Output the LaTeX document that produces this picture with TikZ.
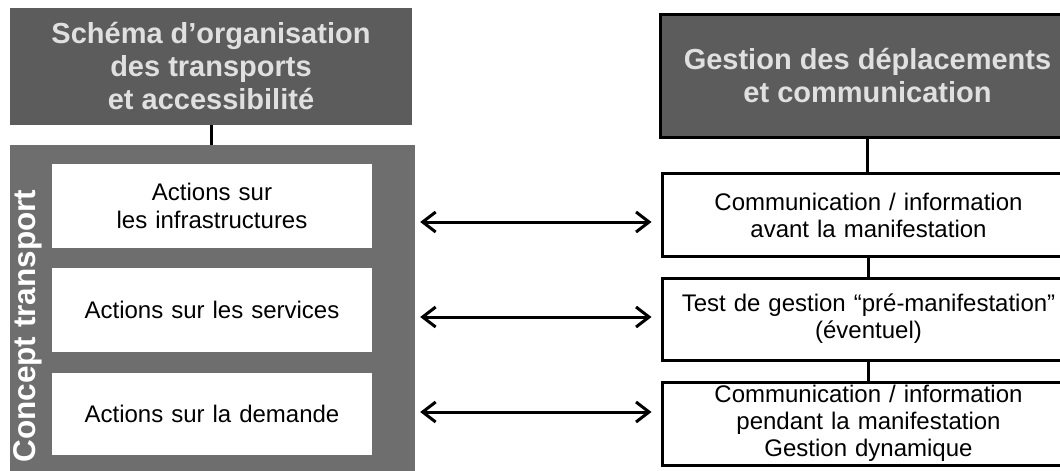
\documentclass[tikz,border=0pt]{standalone}
\usepackage{fontspec}
\setmainfont{Liberation Sans}
\usetikzlibrary{arrows.meta}

\tikzset{
  headbox/.style={fill=black!64,text=black!12,inner sep=0pt,align=center,
    font=\fontsize{29}{33}\selectfont\bfseries},
  conceptbox/.style={fill=black!57,inner sep=0pt},
  actbox/.style={fill=white,inner sep=0pt,align=center,text width=320pt,
    minimum width=320pt,minimum height=84pt,font=\fontsize{24}{28}\selectfont},
  stagebox/.style={draw=black,line width=3pt,fill=white,inner sep=0pt,align=center,
    text width=405pt,minimum width=413pt,minimum height=83pt,
    font=\fontsize{24}{27}\selectfont},
  wire/.style={line width=3pt},
  link/.style={line width=3pt,{Straight Barb[length=13pt,width=20pt]}-{Straight Barb[length=13pt,width=20pt]}}
}

\begin{document}
\begin{tikzpicture}[x=1pt,y=-1pt]
        % page frame
        \useasboundingbox (0,0) rectangle (1060,471);
        \clip (0,0) rectangle (1060,471);
        \fill[white] (0,0) rectangle (1060,471);

        % left column
        \node[headbox,minimum width=402pt,minimum height=117pt] (org) at (211,66.5)
          {Schéma d'organisation\\des transports\\et accessibilité};
        \node[conceptbox,minimum width=405pt,minimum height=345pt] (concept) at (212.5,317.5) {};
        \node[rotate=90,text=white,font=\fontsize{31.5}{31.5}\selectfont\bfseries] (ctlabel) at (28,326) {Concept transport};
        \node[actbox] (act1) at (212,206) {Actions sur\\les infrastructures};
        \node[actbox] (act2) at (212,310) {Actions sur les services};
        \node[actbox,minimum height=82pt] (act3) at (212,414) {Actions sur la demande};

        % right column
        \node[headbox,draw=black,line width=3pt,minimum width=415pt,minimum height=123pt] (gest) at (867.5,75.5)
          {Gestion des déplacements\\et communication};
        \node[stagebox] (rb1) at (868.5,215) {Communication / information\\avant la manifestation};
        \node[stagebox,minimum height=82pt] (rb2) at (868.5,319) {Test de gestion “pré-manifestation”\\(éventuel)};
        \node[stagebox] (rb3) at (868.5,423.5) {Communication / information\\pendant la manifestation\\Gestion dynamique};

        % vertical links
        \draw[wire] (org.south) -- (org.south |- concept.north);
        \draw[wire] (gest.south) -- (gest.south |- rb1.north);
        \draw[wire] (rb1.south) -- (rb1.south |- rb2.north);
        \draw[wire] (rb2.south) -- (rb2.south |- rb3.north);

        % double arrows
        \foreach \b/\s in {rb1/-7,rb2/2,rb3/11.5}
          \draw[link] ([xshift=5pt,yshift=\s pt]concept.east |- \b.west) -- ([xshift=-9pt,yshift=\s pt]\b.west);
\end{tikzpicture}
\end{document}
